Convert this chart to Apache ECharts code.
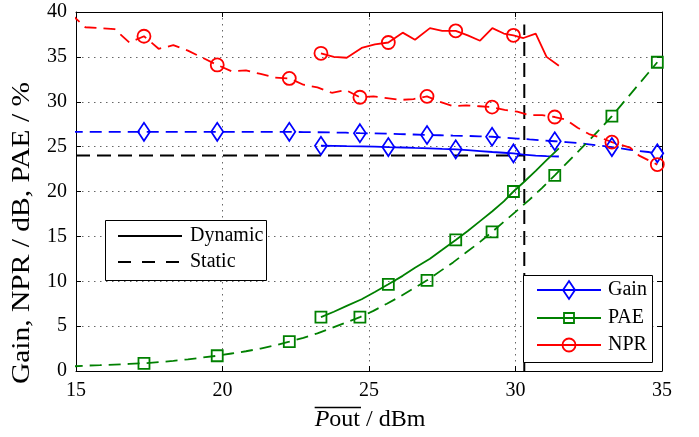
<!DOCTYPE html>
<html>
<head>
<meta charset="utf-8">
<script src="https://cdn.jsdelivr.net/npm/echarts@6/dist/echarts.min.js"></script>
<style>
  html, body { margin: 0; padding: 0; background: #fff; }
  #chart { width: 699px; height: 437px; }
</style>
</head>
<body>
<div id="chart"></div>
<script>
// ---- Static (CW) sweep: mean output power in dBm ----
const staticPout = [
  14.82, 15.32, 15.82, 16.32, 16.82, 17.32, 17.82, 18.32, 18.82, 19.32,
  19.82, 20.31, 20.80, 21.30, 21.79, 22.28, 22.76, 23.24, 23.73, 24.21,
  24.69, 25.15, 25.61, 26.06, 26.52, 26.98, 27.42, 27.87, 28.31, 28.76,
  29.20, 29.63, 30.06, 30.48, 30.91, 31.34, 31.73, 32.12, 32.51, 32.90,
  33.29, 33.60, 33.91, 34.22, 34.53, 34.84
];
const staticGain = [
  26.65, 26.65, 26.65, 26.65, 26.65, 26.65, 26.65, 26.65, 26.65, 26.65,
  26.65, 26.65, 26.65, 26.65, 26.65, 26.65, 26.62, 26.60, 26.58, 26.55,
  26.50, 26.47, 26.44, 26.40, 26.35, 26.30, 26.27, 26.23, 26.20, 26.15,
  26.10, 26.00, 25.90, 25.80, 25.70, 25.60, 25.50, 25.40, 25.25, 25.10,
  24.95, 24.80, 24.65, 24.50, 24.40, 24.25
];
const staticPAE = [
  0.50, 0.60, 0.65, 0.72, 0.79, 0.86, 0.98, 1.12, 1.30, 1.50,
  1.70, 1.95, 2.20, 2.50, 2.85, 3.27, 3.70, 4.20, 4.80, 5.40,
  6.00, 6.70, 7.50, 8.30, 9.20, 10.10, 11.10, 12.10, 13.20, 14.30,
  15.50, 16.70, 17.90, 19.10, 20.40, 21.80, 23.10, 24.40, 25.70, 27.00,
  28.40, 29.60, 30.80, 32.00, 33.20, 34.40
];
const staticNPR = [
  39.8, 38.3, 38.2, 38.1, 36.6, 37.3, 35.9, 36.3, 35.7, 34.9,
  34.1, 33.4, 33.5, 33.1, 32.7, 32.6, 31.9, 31.6, 31.0, 31.3,
  30.5, 30.6, 30.4, 30.2, 30.3, 30.6, 30.0, 29.5, 29.6, 29.5,
  29.4, 29.1, 28.9, 28.5, 28.5, 28.3, 28.0, 27.1, 26.4, 26.0,
  25.5, 25.2, 24.9, 24.0, 23.5, 23.0
];

// ---- Dynamic (modulated) sweep ----
const dynamicPout = [
  23.36, 23.80, 24.24, 24.75, 25.20, 25.66, 26.15, 26.57, 27.08, 27.50,
  27.96, 28.37, 28.79, 29.21, 29.60, 29.93, 30.27, 30.69, 31.06, 31.48
];
const dynamicGain = [
  25.10, 25.08, 25.05, 25.03, 25.00, 24.95, 24.90, 24.85, 24.80, 24.75,
  24.70, 24.60, 24.50, 24.40, 24.32, 24.25, 24.10, 24.00, 23.95, 23.90
];
const dynamicPAE = [
  6.00, 6.60, 7.25, 8.00, 8.80, 9.66, 10.60, 11.50, 12.50, 13.50,
  14.60, 15.60, 16.70, 17.80, 18.90, 20.00, 21.00, 22.30, 23.50, 24.80
];
const dynamicNPR = [
  35.4, 35.0, 34.9, 36.0, 36.4, 36.6, 37.7, 36.9, 38.2, 37.9,
  37.9, 37.4, 36.8, 38.2, 37.6, 37.4, 37.1, 37.6, 35.0, 34.0
];

// ---- Reference levels (black dashed) ----
const refGainLevel = 24;     // dB
const refPoutLevel = 30.3;   // dBm
const refTopLevel = 38.6;

// ---- Axes ----
const xRange = [15, 35], xStep = 5;
const yRange = [0, 40], yStep = 5;
const xTitleMain = 'P', xTitleRest = 'out', xTitleUnit = ' / dBm';
const yTitle = 'Gain, NPR / dB, PAE / %';
const seriesNames = ['Gain', 'PAE', 'NPR'];
const styleNames = ['Dynamic', 'Static'];

const FONT = '"Liberation Serif", "Times New Roman", serif';
const BLUE = '#0000ff', GREEN = '#008000', RED = '#ff0000';
const MARK_EVERY = 5;
const LW = 1.8;

function sampled(xs, ys, skipFirst) {
  return xs.map((x, i) => {
    const item = { value: [x, ys[i]] };
    const isMark = i % MARK_EVERY === 0 && !(skipFirst && i === 0);
    if (!isMark) item.symbol = 'none';
    return item;
  });
}

function curve(name, color, symbol, size, dashed, xs, ys) {
  return {
    type: 'line',
    name: name,
    data: sampled(xs, ys, dashed),
    symbol: symbol,
    symbolSize: size,
    showAllSymbol: true,
    clip: true,
    silent: true,
    animation: false,
    z: 3,
    lineStyle: { color: color, width: LW, type: dashed ? [12, 7] : 'solid' },
    itemStyle: { color: 'rgba(255,255,255,0)', borderColor: color, borderWidth: LW },
    emphasis: { disabled: true }
  };
}

function refLine(points) {
  return {
    type: 'line',
    data: points,
    symbol: 'none',
    silent: true,
    animation: false,
    z: 2,
    lineStyle: { color: '#000', width: 2, type: [14, 7] }
  };
}

const series = [
  refLine([[xRange[0], refGainLevel], [refPoutLevel, refGainLevel]]),
  refLine([[refPoutLevel, yRange[0]], [refPoutLevel, refTopLevel]]),
  curve('Gain', BLUE, 'diamond', [12, 18], false, dynamicPout, dynamicGain),
  curve('Gain', BLUE, 'diamond', [12, 18], true, staticPout, staticGain),
  curve('PAE', GREEN, 'rect', [11, 11], false, dynamicPout, dynamicPAE),
  curve('PAE', GREEN, 'rect', [11, 11], true, staticPout, staticPAE),
  curve('NPR', RED, 'circle', 13, false, dynamicPout, dynamicNPR),
  curve('NPR', RED, 'circle', 13, true, staticPout, staticNPR)
];

const tickStyle = { inside: true, length: 5, lineStyle: { color: '#000', width: 1 } };
const lineStyleAxis = { show: true, onZero: false, lineStyle: { color: '#000', width: 1 } };
const labelStyle = { fontFamily: FONT, fontSize: 20, color: '#000' };
const dotted = { show: true, lineStyle: { color: '#666', width: 1, type: [1.5, 4.5] } };

// ---- Text measurement for the overlined x title ----
const ctx = document.createElement('canvas').getContext('2d');
ctx.font = 'italic 24px ' + FONT;
const wMain = ctx.measureText(xTitleMain).width;
ctx.font = '24px ' + FONT;
const wRest = ctx.measureText(xTitleRest).width;
const wUnit = ctx.measureText(xTitleUnit).width;
const xTitleCenter = 370, xTitleY = 420;
const xTitleLeft = xTitleCenter - (wMain + wRest + wUnit) / 2;

// ---- Legend boxes ----
const styleLegend = { x: 105, y: 220, w: 161, h: 60, rowY: [236, 262], lineX: [118, 182], textX: 190 };
const seriesLegend = { x: 523, y: 275, w: 129, h: 87, rowY: [290, 318, 345], lineX: [537, 601], textX: 608 };
const legendColors = [BLUE, GREEN, RED];

function legendText(text, x, y) {
  return {
    type: 'text', z: 101, silent: true,
    x: x, y: y,
    style: { text: text, font: '20px ' + FONT, fill: '#000', align: 'left', verticalAlign: 'middle' }
  };
}

const graphics = [];
// style legend (line type)
graphics.push({
  type: 'rect', z: 100, silent: true,
  shape: { x: styleLegend.x + 0.5, y: styleLegend.y + 0.5, width: styleLegend.w, height: styleLegend.h },
  style: { fill: '#fff', stroke: '#000', lineWidth: 1 }
});
styleNames.forEach((n, i) => {
  graphics.push({
    type: 'line', z: 101, silent: true,
    shape: { x1: styleLegend.lineX[0], y1: styleLegend.rowY[i], x2: styleLegend.lineX[1], y2: styleLegend.rowY[i] },
    style: { stroke: '#000', lineWidth: 2, lineDash: i === 0 ? null : [13, 11] }
  });
  graphics.push(legendText(n, styleLegend.textX, styleLegend.rowY[i]));
});
// series legend (quantity)
graphics.push({
  type: 'rect', z: 100, silent: true,
  shape: { x: seriesLegend.x + 0.5, y: seriesLegend.y + 0.5, width: seriesLegend.w, height: seriesLegend.h },
  style: { fill: '#fff', stroke: '#000', lineWidth: 1 }
});
seriesNames.forEach((n, i) => {
  const y = seriesLegend.rowY[i];
  const cx = (seriesLegend.lineX[0] + seriesLegend.lineX[1]) / 2;
  const c = legendColors[i];
  graphics.push({
    type: 'line', z: 101, silent: true,
    shape: { x1: seriesLegend.lineX[0], y1: y, x2: seriesLegend.lineX[1], y2: y },
    style: { stroke: c, lineWidth: LW }
  });
  let mk;
  if (i === 0) {
    mk = { type: 'polygon', shape: { points: [[cx, y - 9], [cx + 6, y], [cx, y + 9], [cx - 6, y]] } };
  } else if (i === 1) {
    mk = { type: 'rect', shape: { x: cx - 5, y: y - 5, width: 10, height: 10 } };
  } else {
    mk = { type: 'circle', shape: { cx: cx, cy: y, r: 6.5 } };
  }
  mk.z = 102; mk.silent = true;
  mk.style = { fill: 'none', stroke: c, lineWidth: LW };
  graphics.push(mk);
  graphics.push(legendText(n, seriesLegend.textX, y));
});
// axis titles
graphics.push({
  type: 'text', z: 101, silent: true, x: 22, y: 233, rotation: Math.PI / 2, scaleX: 1.18,
  style: { text: yTitle, font: '25px ' + FONT, fill: '#000', align: 'center', verticalAlign: 'middle' }
});
graphics.push({
  type: 'text', z: 101, silent: true, x: xTitleLeft, y: xTitleY,
  style: { text: xTitleMain, font: 'italic 24px ' + FONT, fill: '#000', align: 'left', verticalAlign: 'middle' }
});
graphics.push({
  type: 'text', z: 101, silent: true, x: xTitleLeft + wMain, y: xTitleY,
  style: { text: xTitleRest + xTitleUnit, font: '24px ' + FONT, fill: '#000', align: 'left', verticalAlign: 'middle' }
});
graphics.push({
  type: 'line', z: 101, silent: true,
  shape: { x1: xTitleLeft, y1: 407.5, x2: xTitleLeft + wMain + wRest + 1, y2: 407.5 },
  style: { stroke: '#000', lineWidth: 1.5 }
});

const chart = echarts.init(document.getElementById('chart'), null, { renderer: 'canvas' });
chart.setOption({
  animation: false,
  backgroundColor: '#fff',
  grid: { left: 76, right: 37, top: 12, bottom: 66, containLabel: false, outerBoundsMode: 'none' },
  xAxis: [
    {
      type: 'value', position: 'bottom', min: xRange[0], max: xRange[1], interval: xStep,
      axisLine: lineStyleAxis, axisTick: tickStyle,
      axisLabel: Object.assign({ margin: 10 }, labelStyle),
      splitLine: dotted
    },
    {
      type: 'value', position: 'top', min: xRange[0], max: xRange[1], interval: xStep,
      axisLine: lineStyleAxis, axisTick: tickStyle, axisLabel: { show: false }, splitLine: { show: false }
    }
  ],
  yAxis: [
    {
      type: 'value', position: 'left', min: yRange[0], max: yRange[1], interval: yStep,
      axisLine: lineStyleAxis, axisTick: tickStyle,
      axisLabel: Object.assign({ margin: 9 }, labelStyle),
      splitLine: dotted
    },
    {
      type: 'value', position: 'right', min: yRange[0], max: yRange[1], interval: yStep,
      axisLine: lineStyleAxis, axisTick: tickStyle, axisLabel: { show: false }, splitLine: { show: false }
    }
  ],
  series: series,
  graphic: { elements: graphics }
});
</script>
</body>
</html>
